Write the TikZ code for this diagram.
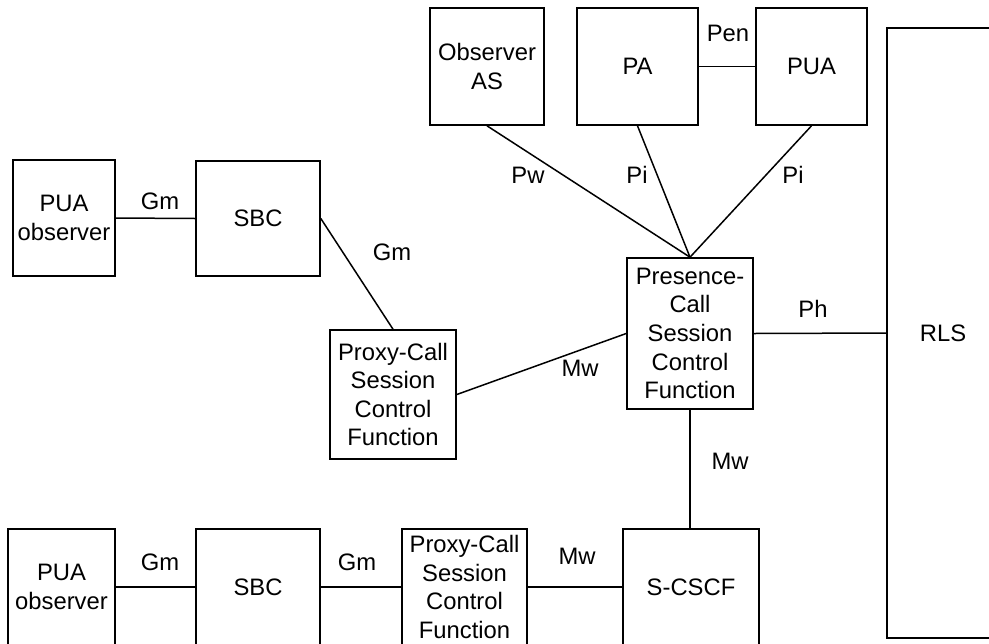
\documentclass[tikz,border=0pt]{standalone}
\usepackage{fontspec}
\setmainfont{Liberation Sans}
\begin{document}
\begin{tikzpicture}[x=0.5pt,y=-0.5pt,
  box/.style={draw, line width=0.8pt, inner sep=0pt, align=center, font=\fontsize{11.9pt}{14.3pt}\selectfont},
  lbl/.style={inner sep=0pt, font=\fontsize{11.9pt}{14.3pt}\selectfont},
  link/.style={line width=0.75pt}]
\useasboundingbox (0,0) rectangle (989,643);
\clip (0,0) rectangle (989,643);
% boxes
\node[box, minimum width=51pt, minimum height=58pt] (pua1) at (64,218) {PUA\\observer};
\node[box, minimum width=62pt, minimum height=57.5pt] (sbc1) at (258,218.5) {SBC};
\node[box, minimum width=63pt, minimum height=64.5pt] (proxy1) at (393,394.5) {Proxy-Call\\Session\\Control\\Function};
\node[box, minimum width=63pt, minimum height=75.5pt] (pres) at (690,333.5) {Presence-\\Call\\Session\\Control\\Function};
\node[box, minimum width=57pt, minimum height=58.5pt] (obsas) at (487,66.5) {Observer\\AS};
\node[box, minimum width=60.5pt, minimum height=58.5pt] (pa) at (637.5,66.5) {PA};
\node[box, minimum width=55.5pt, minimum height=58.5pt] (pua2) at (811.5,66.5) {PUA};
\node[box, minimum width=56pt, minimum height=305pt] (rls) at (943,333) {RLS};
\node[box, minimum width=53.5pt, minimum height=58pt] (pua3) at (61.5,587) {PUA\\observer};
\node[box, minimum width=62pt, minimum height=58pt] (sbc2) at (258,587) {SBC};
\node[box, minimum width=62.5pt, minimum height=58pt] (proxy2) at (464.5,587) {Proxy-Call\\Session\\Control\\Function};
\node[box, minimum width=68pt, minimum height=58pt] (scscf) at (691,587) {S-CSCF};
% connectors
\draw[link] (pua1.east) -- (sbc1.west);
\draw[link] (sbc1.east) -- (proxy1.north);
\draw[link] (proxy1.east) -- (pres.west);
\draw[link] (obsas.south) -- (pres.north);
\draw[link] (pa.south) -- (pres.north);
\draw[link] (pua2.south) -- (pres.north);
\draw[link] (pa.east) -- (pua2.west);
\draw[link] (pres.east) -- (rls.west);
\draw[link] (pres.south) -- (scscf.north -| pres.south);
\draw[link] (pua3.east) -- (sbc2.west);
\draw[link] (sbc2.east) -- (proxy2.west);
\draw[link] (proxy2.east) -- (scscf.west);
% labels
\node[lbl] (l1) at (160,201) {Gm};
\node[lbl] (l2) at (392,252) {Gm};
\node[lbl] (l3) at (580,368) {Mw};
\node[lbl] (l4) at (813,309) {Ph};
\node[lbl] (l5) at (528,175) {Pw};
\node[lbl] (l6) at (637,175) {Pi};
\node[lbl] (l7) at (793,175) {Pi};
\node[lbl] (l8) at (728,33) {Pen};
\node[lbl] (l9) at (730,461) {Mw};
\node[lbl] (l10) at (160,562) {Gm};
\node[lbl] (l11) at (357,562) {Gm};
\node[lbl] (l12) at (577,556) {Mw};
\end{tikzpicture}
\end{document}
